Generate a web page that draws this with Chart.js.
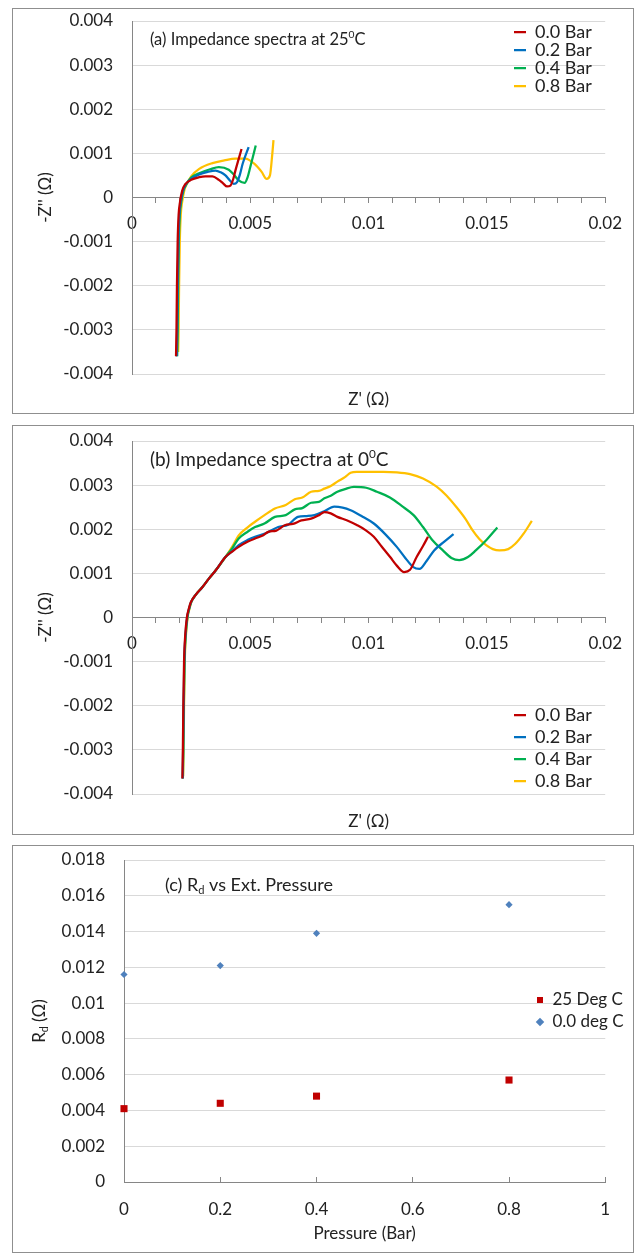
<!DOCTYPE html>
<html lang="en">
<head>
<meta charset="UTF-8">
<title>Impedance spectra and Rd vs pressure</title>
<script src="https://cdn.jsdelivr.net/npm/chart.js"></script>
<style>
  body { margin: 0; background: #fff; }
  .panel { position: absolute; left: 12px; width: 620px; border: 1px solid #8f8f8f; background: #fff; }
  .panel canvas { display: block; }
</style>
</head>
<body>
<div class="panel" style="top:8px;height:404px"><canvas id="chartA" width="620" height="404"></canvas></div>
<div class="panel" style="top:425px;height:408px"><canvas id="chartB" width="620" height="408"></canvas></div>
<div class="panel" style="top:845px;height:406px"><canvas id="chartC" width="620" height="406"></canvas></div>
<script>
// series names
const pressureLabels = ['0.0 Bar', '0.2 Bar', '0.4 Bar', '0.8 Bar'];

// (a) 25 C : Z' and -Z''
const re25_00 = [0.00186,0.00188,0.0019,0.00193,0.00197,0.00203,0.00212,0.00225,0.0025,0.00284,0.0031,0.0034,0.00367,0.00385,0.00402,0.00416,0.00428,0.00437,0.00463];
const im25_00 = [-0.0036,-0.003,-0.002,-0.001,-0.0004,-0.0001,0.00015,0.0003,0.0004,0.00046,0.00048,0.00048,0.0004,0.00032,0.00025,0.00027,0.00042,0.00061,0.0011];
const re25_02 = [0.00189,0.00191,0.00193,0.00196,0.002,0.00206,0.00215,0.00228,0.0025,0.00284,0.0032,0.00353,0.00375,0.00395,0.00413,0.0043,0.00444,0.00456,0.00468,0.00493];
const im25_02 = [-0.0036,-0.003,-0.002,-0.001,-0.0004,-0.0001,0.00015,0.0003,0.00042,0.00052,0.00058,0.00061,0.00057,0.0005,0.00039,0.00031,0.00035,0.00052,0.00077,0.00114];
const re25_04 = [0.00191,0.00193,0.00195,0.00198,0.00202,0.00208,0.00217,0.0023,0.0025,0.00284,0.0033,0.00367,0.00409,0.0043,0.00451,0.00476,0.00488,0.005,0.00523];
const im25_04 = [-0.0036,-0.003,-0.002,-0.001,-0.0004,-0.0001,0.00015,0.0003,0.00045,0.00055,0.00064,0.00069,0.00063,0.00052,0.00039,0.00033,0.00045,0.00069,0.00118];
const re25_08 = [0.00195,0.00197,0.00199,0.00202,0.00206,0.00212,0.00221,0.00234,0.0025,0.00284,0.0034,0.0039,0.00437,0.00479,0.0052,0.00548,0.00569,0.00583,0.00593,0.00598];
const im25_08 = [-0.0035,-0.003,-0.002,-0.001,-0.0004,-0.0001,0.00016,0.00033,0.00048,0.00065,0.00078,0.00084,0.00088,0.00088,0.00075,0.00058,0.00042,0.0005,0.00099,0.0013];

// (b) 0 C
const re0_00 = [0.00213,0.00215,0.00217,0.0022,0.00225,0.00232,0.0024,0.00249,0.0027,0.00298,0.00325,0.00354,0.00395,0.00425,0.00451,0.0049,0.0052,0.0055,0.00576,0.0061,0.00646,0.0068,0.00716,0.00757,0.0079,0.00813,0.0084,0.00868,0.0091,0.00952,0.0099,0.01022,0.01055,0.01091,0.0112,0.0115,0.01175,0.01203,0.0123,0.01251];
const im0_00 = [-0.00365,-0.003,-0.002,-0.001,-0.0004,0,0.0002,0.00035,0.00052,0.00069,0.00088,0.00107,0.00137,0.0015,0.0016,0.00172,0.00179,0.00185,0.00194,0.00197,0.00209,0.00212,0.0022,0.00224,0.00232,0.00239,0.00236,0.00228,0.0022,0.00209,0.00197,0.00183,0.00161,0.00137,0.00117,0.00103,0.00108,0.00137,0.00162,0.00183];
const re0_02 = [0.00214,0.00216,0.00218,0.00221,0.00226,0.00233,0.00241,0.0025,0.0027,0.00298,0.00325,0.00354,0.00395,0.00425,0.00451,0.0049,0.0052,0.0057,0.00618,0.0066,0.00701,0.0074,0.00771,0.0081,0.00855,0.0089,0.00924,0.0097,0.01022,0.0107,0.01119,0.01155,0.01189,0.01215,0.01245,0.01277,0.0132,0.01359];
const im0_02 = [-0.00365,-0.003,-0.002,-0.001,-0.0004,0,0.0002,0.00035,0.00052,0.00069,0.00088,0.00107,0.00137,0.00151,0.00164,0.00176,0.00183,0.00192,0.00205,0.0021,0.00228,0.0023,0.00232,0.0024,0.00251,0.00249,0.00243,0.0023,0.00213,0.00189,0.0016,0.00135,0.00114,0.0011,0.00128,0.00152,0.00172,0.00189];
const re0_04 = [0.00215,0.00217,0.00219,0.00222,0.00227,0.00234,0.00242,0.0025,0.0027,0.00298,0.00325,0.00354,0.00395,0.00425,0.00451,0.0049,0.0052,0.0056,0.00604,0.0065,0.00688,0.0072,0.00757,0.0079,0.00813,0.0084,0.00868,0.009,0.00938,0.0099,0.01035,0.0109,0.01147,0.0119,0.0123,0.0127,0.01314,0.0135,0.01383,0.0142,0.01453,0.015,0.01544];
const im0_04 = [-0.00365,-0.003,-0.002,-0.001,-0.0004,0,0.0002,0.00035,0.00052,0.00069,0.00088,0.00107,0.00137,0.00158,0.00179,0.00195,0.00205,0.00213,0.00228,0.00232,0.00245,0.00248,0.0026,0.00262,0.0027,0.00276,0.00285,0.00291,0.00296,0.00294,0.00285,0.00272,0.0025,0.00232,0.00205,0.00175,0.00152,0.00135,0.0013,0.00137,0.00152,0.00177,0.00204];
const re0_08 = [0.00216,0.00218,0.0022,0.00223,0.00228,0.00235,0.00243,0.00251,0.0027,0.00298,0.00325,0.00354,0.00395,0.00425,0.00451,0.0049,0.0052,0.0056,0.00604,0.0065,0.00688,0.0072,0.00757,0.0079,0.00813,0.0084,0.00868,0.009,0.00924,0.0095,0.0098,0.01063,0.0112,0.01175,0.0123,0.01286,0.0133,0.0137,0.0141,0.01439,0.01468,0.01497,0.01525,0.01553,0.0159,0.0162,0.01655,0.0169];
const im0_08 = [-0.0036,-0.003,-0.002,-0.001,-0.0004,0,0.0002,0.00035,0.00052,0.00069,0.00088,0.00107,0.00137,0.00162,0.00186,0.00205,0.00217,0.00232,0.00247,0.00255,0.00268,0.00272,0.00285,0.00287,0.00292,0.00298,0.00308,0.00318,0.00328,0.0033,0.0033,0.0033,0.00329,0.00325,0.00315,0.00297,0.00276,0.00251,0.00223,0.00198,0.00178,0.00164,0.00155,0.00152,0.00155,0.00167,0.0019,0.00219];

// (c) Rd vs pressure
const pressure = [0, 0.2, 0.4, 0.8];
const rd25 = [0.0041, 0.0044, 0.0048, 0.0057];
const rd0 = [0.0116, 0.0121, 0.0139, 0.0155];

const lineColors = ['#C00000', '#0070C0', '#00B050', '#FFC000'];
const gridGray = '#d9d9d9';
const axisGray = '#868686';

Chart.defaults.font.family = 'Lato';
Chart.defaults.font.size = 17;
Chart.defaults.color = '#222';

function pairs(xs, ys) {
    return xs.map(function(x, i) { return { x: x, y: ys[i] }; });
}
function fmt(v) {
    return String(Number(v.toFixed(4)));
}
// keep the y label padding from pushing the plot down
function fixY(width) {
    return function(s) {
        s.width = width;
        s.paddingTop = 8;
        s.paddingBottom = 8;
    };
}

// moves the legend to a fixed spot inside the plot
function legendAt(x, y) {
    return {
        id: 'legendAt',
        afterLayout(chart) {
            const lg = chart.legend;
            const lab = lg.options.labels;
            lg.left = x - lab.padding;
            lg.top = y - lab.font.size / 2 - lab.padding;
            lg.right = lg.left + lg.width;
            lg.bottom = lg.top + lg.height;
        }
    };
}

// text with super/subscripts (titles inside the plot)
function textAt(items) {
    return {
        id: 'textAt',
        afterDraw(chart) {
            const ctx = chart.ctx;
            const fam = Chart.defaults.font.family;
            items.forEach(function(it) {
                const runs = it.parts.map(function(p) {
                    const size = p[1] ? it.size * 0.62 : it.size;
                    ctx.font = size + 'px ' + fam;
                    return { text: p[0], kind: p[1], size: size, w: ctx.measureText(p[0]).width };
                });
                const total = runs.reduce(function(s, r) { return s + r.w; }, 0);
                ctx.save();
                ctx.translate(it.x, it.y);
                ctx.rotate(it.angle || 0);
                ctx.fillStyle = '#222';
                ctx.textBaseline = 'middle';
                let x = it.center ? -total / 2 : 0;
                runs.forEach(function(r) {
                    ctx.font = r.size + 'px ' + fam;
                    const dy = r.kind === 'sup' ? -it.size * 0.3 : (r.kind === 'sub' ? it.size * 0.28 : 0);
                    ctx.fillText(r.text, x, dy);
                    x += r.w;
                });
                ctx.restore();
            });
        }
    };
}

function spectraChart(id, reList, imList, lay) {
    return new Chart(document.getElementById(id), {
        type: 'scatter',
        data: {
            datasets: pressureLabels.map(function(label, i) {
                return {
                    label: label,
                    data: pairs(reList[i], imList[i]),
                    showLine: true,
                    borderColor: lineColors[i],
                    backgroundColor: lineColors[i],
                    borderWidth: 2.25,
                    pointRadius: 0,
                    cubicInterpolationMode: 'monotone',
                    clip: false
                };
            })
        },
        options: {
            responsive: false,
            animation: false,
            layout: { padding: { top: lay.top, right: 22, left: 0, bottom: 0 } },
            scales: {
                x: {
                    type: 'linear', position: { y: 0 }, min: 0, max: 0.02,
                    ticks: {
                        stepSize: 0.001, autoSkip: false, maxRotation: 0, padding: 11,
                        callback: function(v) {
                            const k = v / 0.005;
                            return Math.abs(k - Math.round(k)) < 1e-6 ? fmt(v) : '';
                        }
                    },
                    grid: { drawOnChartArea: false, tickLength: 5, color: axisGray },
                    border: { color: axisGray }
                },
                y: {
                    min: -0.004, max: 0.004,
                    ticks: { stepSize: 0.001, padding: 19, callback: fmt },
                    grid: { color: gridGray, drawTicks: false },
                    border: { color: axisGray },
                    title: { display: true, text: "-Z'' (\u03A9)", padding: { top: 22, bottom: 0 } },
                    afterFit: fixY(119)
                }
            },
            plugins: {
                legend: {
                    position: 'chartArea', align: 'start',
                    labels: { boxWidth: 12, boxHeight: 0, padding: lay.legendGap, font: { size: 18 } }
                },
                title: {
                    display: true, text: "Z' (\u03A9)", position: 'bottom', fullSize: false,
                    font: { size: 17, weight: 'normal' },
                    padding: { top: lay.titleTop, bottom: lay.titleBottom }
                },
                tooltip: { enabled: false }
            }
        },
        plugins: [legendAt(501, lay.legendY), textAt([{ x: 137, y: lay.headY, size: lay.headSize, parts: lay.head }])]
    });
}

spectraChart('chartA',
    [re25_00, re25_02, re25_04, re25_08],
    [im25_00, im25_02, im25_04, im25_08],
    { top: 12, titleTop: 15.8, titleBottom: 2.8, legendY: 23, legendGap: 0, headY: 31, headSize: 16.5,
      head: [['(a) Impedance spectra at 25', ''], ['0', 'sup'], ['C', '']] });

spectraChart('chartB',
    [re0_00, re0_02, re0_04, re0_08],
    [im0_00, im0_02, im0_04, im0_08],
    { top: 15, titleTop: 17.8, titleBottom: 1.8, legendY: 289, legendGap: 4, headY: 34, headSize: 19,
      head: [['(b) Impedance spectra at 0', ''], ['0', 'sup'], ['C', '']] });

new Chart(document.getElementById('chartC'), {
    type: 'scatter',
    data: {
        datasets: [{
            label: '25 Deg C',
            data: pairs(pressure, rd25),
            pointStyle: 'rect', pointRadius: 5,
            backgroundColor: '#C00000', borderColor: '#C00000', borderWidth: 0,
            clip: false
        }, {
            label: '0.0 deg C',
            data: pairs(pressure, rd0),
            pointStyle: 'rectRot', pointRadius: 3.6,
            backgroundColor: '#4F81BD', borderColor: '#4F81BD', borderWidth: 0,
            clip: false
        }]
    },
    options: {
        responsive: false,
        animation: false,
        layout: { padding: { top: 14, right: 7, left: 0, bottom: 0 } },
        scales: {
            x: {
                min: 0, max: 1,
                ticks: { stepSize: 0.2, padding: 22.8, maxRotation: 0, callback: fmt },
                grid: { drawOnChartArea: false, tickLength: -5, color: axisGray },
                border: { color: axisGray },
                title: { display: true, text: 'Pressure (Bar)', padding: { top: 0, bottom: 7.8 } },
                afterFit: function(s) { s.height = 70; }
            },
            y: {
                min: 0, max: 0.018,
                ticks: { stepSize: 0.002, padding: 19, callback: fmt },
                grid: { color: gridGray, drawTicks: false },
                border: { color: axisGray },
                afterFit: fixY(111)
            }
        },
        plugins: {
            legend: {
                position: 'chartArea', align: 'start',
                labels: { usePointStyle: true, boxWidth: 8, boxHeight: 6, padding: 5, font: { size: 17 } }
            },
            tooltip: { enabled: false }
        }
    },
    plugins: [legendAt(523, 154), textAt([
        { x: 152, y: 39, size: 18, parts: [['(c) R', ''], ['d', 'sub'], [' vs Ext. Pressure', '']] },
        { x: 27, y: 175, size: 17, angle: -Math.PI / 2, center: true, parts: [['R', ''], ['d', 'sub'], [' (\u03A9)', '']] }
    ])]
});
</script>
</body>
</html>
